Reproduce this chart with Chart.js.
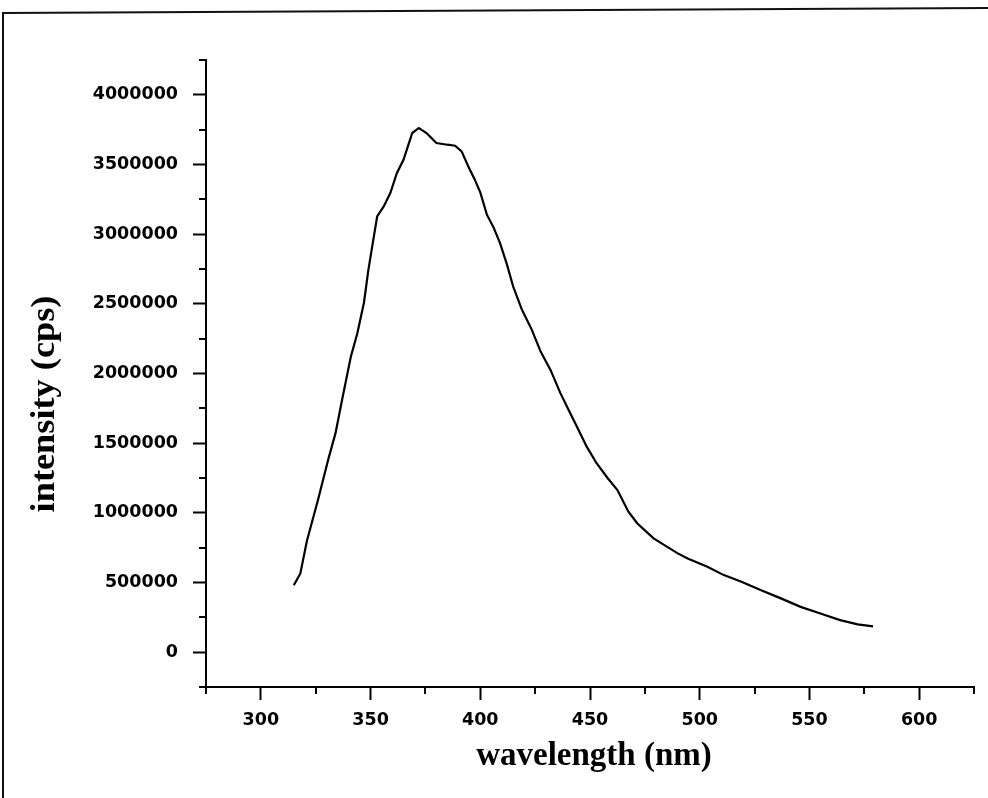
<!DOCTYPE html>
<html>
<head>
<meta charset="utf-8">
<script src="https://cdn.jsdelivr.net/npm/chart.js@4/dist/chart.umd.min.js"></script>
<style>
  html, body { margin: 0; padding: 0; background: #fff; }
  #wrap { position: relative; width: 988px; height: 798px; }
  canvas { display: block; }
</style>
</head>
<body>
<div id="wrap"><canvas id="c" width="988" height="798"></canvas></div>
<script>
// ---- data ----
const wavelengths = [315, 318, 321, 326, 331, 334, 337, 341, 344, 347, 349, 351, 353, 356, 359, 362, 365, 367, 369, 372,
  375.5, 380, 385, 388.5, 391.5, 394.5, 397.5, 400, 403, 406, 409, 412, 415, 419, 423.5, 427.5, 432, 436.5, 441, 444,
  448.5, 453, 458, 462.5, 467.5, 471.5, 476, 479, 485, 490, 494.5, 503.5, 511, 519, 528, 537, 546, 555, 564, 572, 579];
const intensity = [480000, 565000, 800000, 1090000, 1400000, 1570000, 1810000, 2120000, 2290000, 2510000, 2744000, 2936000,
  3127000, 3199000, 3295000, 3439000, 3534000, 3630000, 3726000, 3762000,
  3726000, 3654000, 3642000, 3635000, 3594000, 3487000, 3391000, 3300000, 3140000, 3050000, 2936000, 2790000, 2624000,
  2457000, 2313000, 2157000, 2026000, 1859000, 1715000, 1619000,
  1475000, 1356000, 1250000, 1164000, 1008000, 925000, 860000, 817000, 757000, 709000, 673000, 613000, 553000, 505000,
  445000, 386000, 325000, 278000, 230000, 199000, 185000];
const xTicks = [300, 350, 400, 450, 500, 550, 600];
const yTicks = [0, 500000, 1000000, 1500000, 2000000, 2500000, 3000000, 3500000, 4000000];
const xTitle = 'wavelength (nm)';
const yTitle = 'intensity (cps)';

const points = wavelengths.map((w, i) => ({ x: w, y: intensity[i] }));

const tickFont = { family: '"DejaVu Sans", sans-serif', size: 17.5, weight: 'bold' };
const titleFont = 'bold 33px "Liberation Serif", "Times New Roman", serif';

const decor = {
  id: 'decor',
  beforeDraw(chart) {
    const ctx = chart.ctx;
    ctx.save();
    ctx.fillStyle = '#fff';
    ctx.fillRect(0, 0, chart.width, chart.height);
    // page frame
    ctx.strokeStyle = '#111';
    ctx.lineWidth = 2;
    ctx.beginPath();
    ctx.moveTo(3, 798);
    ctx.lineTo(3, 13);
    ctx.lineTo(988, 8);
    ctx.stroke();
    ctx.restore();
  },
  afterDraw(chart) {
    const ctx = chart.ctx;
    const xs = chart.scales.x, ys = chart.scales.y;
    ctx.save();
    ctx.strokeStyle = '#000';
    ctx.lineWidth = 2;
    ctx.beginPath();
    // minor ticks
    for (let v = xs.min; v <= xs.max + 1e-6; v += 25) {
      if (v % 50 === 0) continue;
      const px = Math.round(xs.getPixelForValue(v));
      ctx.moveTo(px, xs.top);
      ctx.lineTo(px, xs.top + 7);
    }
    for (let v = ys.min; v <= ys.max + 1; v += 250000) {
      if (v % 500000 === 0) continue;
      const py = Math.round(ys.getPixelForValue(v));
      ctx.moveTo(ys.right, py);
      ctx.lineTo(ys.right - 7, py);
    }
    ctx.stroke();
    // axis titles
    ctx.fillStyle = '#000';
    ctx.font = titleFont;
    ctx.textAlign = 'center';
    ctx.textBaseline = 'middle';
    ctx.fillText(xTitle, 594, 756);
    ctx.translate(45, 404);
    ctx.rotate(-Math.PI / 2);
    ctx.scale(1.1, 1);
    ctx.fillText(yTitle, 0, 0);
    ctx.restore();
  }
};

new Chart(document.getElementById('c'), {
  type: 'line',
  data: {
    datasets: [{
      data: points,
      borderColor: '#000',
      borderWidth: 2.2,
      pointRadius: 0,
      tension: 0,
      fill: false
    }]
  },
  options: {
    responsive: false,
    animation: false,
    devicePixelRatio: 1,
    layout: { padding: { top: 60, right: 14, left: 0, bottom: 0 } },
    plugins: { legend: { display: false }, tooltip: { enabled: false } },
    scales: {
      x: {
        type: 'linear',
        min: 275,
        max: 625,
        afterBuildTicks: s => { s.ticks = xTicks.map(v => ({ value: v })); },
        afterFit: s => { s.height = 111; },
        grid: { drawOnChartArea: false, tickLength: 13, tickWidth: 2, tickColor: '#000' },
        border: { display: true, color: '#000', width: 2 },
        ticks: { color: '#000', font: tickFont, padding: 10, maxRotation: 0, autoSkip: false,
                 callback: v => String(v) }
      },
      y: {
        type: 'linear',
        min: -250000,
        max: 4250000,
        afterBuildTicks: s => { s.ticks = yTicks.map(v => ({ value: v })); },
        afterFit: s => { s.width = 206; },
        grid: { drawOnChartArea: false, tickLength: 13, tickWidth: 2, tickColor: '#000' },
        border: { display: true, color: '#000', width: 2 },
        ticks: { color: '#000', font: tickFont, padding: 15, autoSkip: false,
                 callback: v => String(v) }
      }
    }
  },
  plugins: [decor]
});
</script>
</body>
</html>
